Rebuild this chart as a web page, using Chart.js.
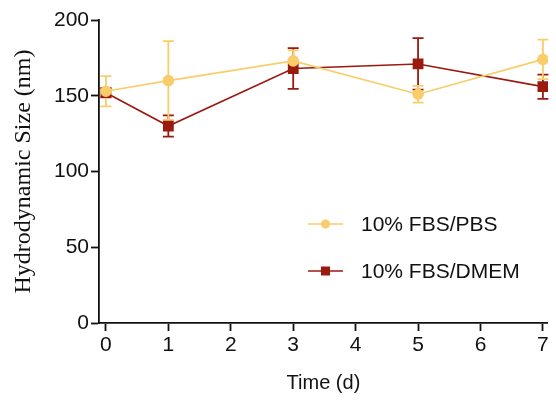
<!DOCTYPE html>
<html>
<head>
<meta charset="utf-8">
<script src="https://cdn.jsdelivr.net/npm/chart.js@4"></script>
<style>
  html, body { margin: 0; padding: 0; background: #fff; }
  #wrap { width: 556px; height: 400px; }
</style>
</head>
<body>
<div id="wrap"><canvas id="size-chart" width="556" height="400"></canvas></div>
<script>
// values
const days = [0, 1, 3, 5, 7];
const xTicks = [0, 1, 2, 3, 4, 5, 6, 7];
const yTicks = [0, 50, 100, 150, 200];
const seriesNames = ['10% FBS/PBS', '10% FBS/DMEM'];
const pbsMean = [153, 160, 173, 151, 174];
const pbsErr = [10, 26, 7, 5.5, 13];
const dmemMean = [152, 130, 168, 171, 156];
const dmemErr = [3, 7, 13.5, 17, 8];

const yellow = '#F8CD6A';
const red = '#9A1A10';
const sans = "'Liberation Sans', Arial, Helvetica, sans-serif";

function toPoints(xs, ys) {
    return xs.map((x, i) => ({x: x, y: ys[i]}));
}

// error bars, drawn below the markers
const errorBars = {
    id: 'errorBars',
    beforeDatasetsDraw(chart) {
        const ctx = chart.ctx;
        const xs = chart.scales.x;
        const ys = chart.scales.y;
        for (let d = chart.data.datasets.length - 1; d >= 0; --d) {
            const ds = chart.data.datasets[d];
            ctx.save();
            ctx.strokeStyle = ds.borderColor;
            ctx.lineWidth = 1.8;
            ds.data.forEach((p, i) => {
                const e = ds.errors[i];
                const px = xs.getPixelForValue(p.x);
                const top = ys.getPixelForValue(p.y + e);
                const bot = ys.getPixelForValue(p.y - e);
                ctx.beginPath();
                ctx.moveTo(px, top);
                ctx.lineTo(px, bot);
                ctx.moveTo(px - 5.5, top);
                ctx.lineTo(px + 5.5, top);
                ctx.moveTo(px - 5.5, bot);
                ctx.lineTo(px + 5.5, bot);
                ctx.stroke();
            });
            ctx.restore();
        }
    }
};

// legend inside the plot, like the original
const innerLegend = {
    id: 'innerLegend',
    afterDraw(chart) {
        const ctx = chart.ctx;
        const rows = [224, 271];
        chart.data.datasets.forEach((ds, i) => {
            const y = rows[i];
            ctx.save();
            ctx.strokeStyle = ds.borderColor;
            ctx.lineWidth = 1.6;
            ctx.beginPath();
            ctx.moveTo(308, y);
            ctx.lineTo(343, y);
            ctx.stroke();
            ctx.fillStyle = ds.pointBackgroundColor;
            if (ds.pointStyle == 'rect') {
                ctx.fillRect(325.5 - 4.5, y - 4.5, 9, 9);
            } else {
                ctx.beginPath();
                ctx.arc(325.5, y, 4.5, 0, Math.PI * 2);
                ctx.fill();
            }
            ctx.fillStyle = '#111';
            ctx.font = '21px ' + sans;
            ctx.textBaseline = 'middle';
            ctx.fillText(ds.label, 361, y + 1);
            ctx.restore();
        });
    }
};

const config = {
    type: 'line',
    data: {
        datasets: [
            {
                label: seriesNames[0],
                data: toPoints(days, pbsMean),
                errors: pbsErr,
                borderColor: yellow,
                backgroundColor: yellow,
                pointBackgroundColor: yellow,
                pointBorderColor: yellow,
                pointStyle: 'circle',
                pointRadius: 5,
                borderWidth: 1.6
            },
            {
                label: seriesNames[1],
                data: toPoints(days, dmemMean),
                errors: dmemErr,
                borderColor: red,
                backgroundColor: red,
                pointBackgroundColor: red,
                pointBorderColor: red,
                pointStyle: 'rect',
                pointRadius: 6.5,
                borderWidth: 1.6
            }
        ]
    },
    options: {
        responsive: false,
        animation: false,
        layout: {padding: {top: 20, right: 4, bottom: 0, left: 0}},
        plugins: {
            legend: {display: false},
            tooltip: {enabled: false}
        },
        scales: {
            x: {
                type: 'linear',
                min: -0.111,
                max: 7.08,
                afterBuildTicks: (scale) => { scale.ticks = xTicks.map(v => ({value: v})); },
                afterFit: (scale) => { scale.height = 77; },
                border: {display: true, color: '#111', width: 1.8},
                grid: {drawOnChartArea: false, drawTicks: true, tickLength: 8, tickColor: '#111', tickWidth: 1.8},
                ticks: {color: '#111', font: {family: sans, size: 21}, padding: 2, maxRotation: 0},
                title: {display: true, text: 'Time (d)', color: '#111', font: {family: sans, size: 20}, padding: {top: 0, bottom: 5}}
            },
            y: {
                min: 0,
                max: 200,
                afterBuildTicks: (scale) => { scale.ticks = yTicks.map(v => ({value: v})); },
                afterFit: (scale) => { scale.width = 99; },
                border: {display: true, color: '#111', width: 1.8},
                grid: {drawOnChartArea: false, drawTicks: true, tickLength: 8, tickColor: '#111', tickWidth: 1.8},
                ticks: {color: '#111', font: {family: sans, size: 21}, padding: 2},
                title: {display: true, text: 'Hydrodynamic Size (nm)', color: '#111', font: {family: "'Liberation Serif', 'Times New Roman', serif", size: 24}, padding: {top: 9, bottom: 0}}
            }
        }
    },
    plugins: [errorBars, innerLegend]
};

new Chart('size-chart', config);
</script>
</body>
</html>
